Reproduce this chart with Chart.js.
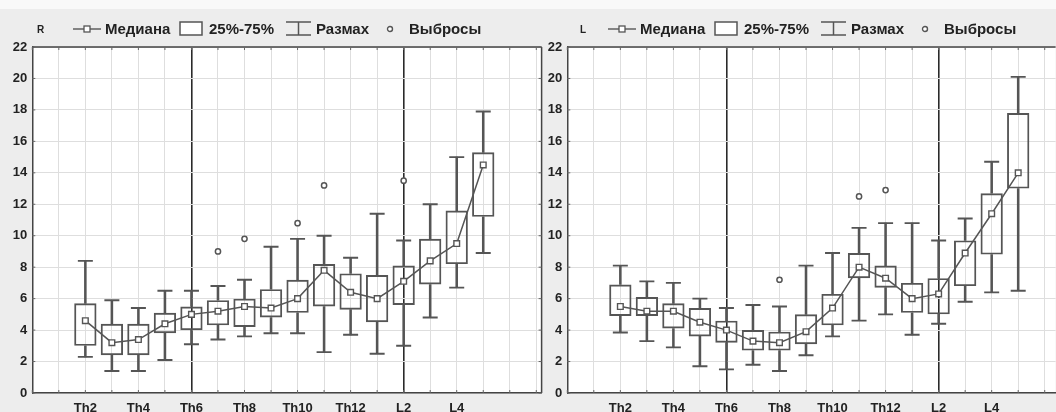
<!DOCTYPE html>
<html>
<head>
<meta charset="utf-8">
<script src="https://cdn.jsdelivr.net/npm/chart.js@4.4.1/dist/chart.umd.min.js"></script>
<style>
  html, body { margin: 0; padding: 0; }
  body { width: 1056px; height: 412px; overflow: hidden; position: relative;
         background: #ededed; font-family: "Liberation Sans", Arial, sans-serif; }
  .topband { position: absolute; left: 0; top: 0; width: 1056px; height: 9px; background: #f9f9f9; }
  .panel { position: absolute; top: 0; height: 412px; }
  .legend { position: absolute; top: 0; height: 44px; left: 0; width: 520px; color: #222; }
  .legend span, .legend svg { position: absolute; }
  .legend .t { font-size: 15px; font-weight: bold; top: 20px; line-height: 17px; white-space: nowrap; }
  .legend .p { font-size: 10px; font-weight: bold; top: 24px; line-height: 12px; }
</style>
</head>
<body>
<div class="topband"></div>
<canvas id="chartR" class="panel" style="left:0px" width="551" height="412"></canvas>
<canvas id="chartL" class="panel" style="left:543px" width="522" height="412"></canvas>
<div id="legR" class="legend"></div>
<div id="legL" class="legend" style="left:535px"></div>
<script>
// ---- data ----
const categories = ['Th1','Th2','Th3','Th4','Th5','Th6','Th7','Th8','Th9','Th10','Th11','Th12','L1','L2','L3','L4','L5'];
const tickLabels = ['Th2','Th4','Th6','Th8','Th10','Th12','L2','L4'];
const dividerCategories = ['Th6','L2'];
const legendTexts = ['Медиана','25%-75%','Размах','Выбросы'];

// Right side (R)
const rMin    = [null, 2.3, 1.4, 1.4, 2.1, 3.1, 3.4, 3.6, 3.8, 3.8, 2.6, 3.7, 2.5, 3.0, 4.8, 6.7, 8.9];
const rQ1     = [null, 3.0, 2.4, 2.4, 3.8, 4.0, 4.3, 4.2, 4.8, 5.1, 5.5, 5.3, 4.5, 5.6, 6.9, 8.2, 11.2];
const rMedian = [null, 4.6, 3.2, 3.4, 4.4, 5.0, 5.2, 5.5, 5.4, 6.0, 7.8, 6.4, 6.0, 7.1, 8.4, 9.5, 14.5];
const rQ3     = [null, 5.7, 4.4, 4.4, 5.1, 5.5, 5.9, 6.0, 6.6, 7.2, 8.2, 7.6, 7.5, 8.1, 9.8, 11.6, 15.3];
const rMax    = [null, 8.4, 5.9, 5.4, 6.5, 6.5, 6.8, 7.2, 9.3, 9.8, 10.0, 8.6, 11.4, 9.7, 12.0, 15.0, 17.9];
const rOutlierCats = ['Th7','Th8','Th10','Th11','L2'];
const rOutlierVals = [9.0, 9.8, 10.8, 13.2, 13.5];

// Left side (L)
const lMin    = [null, 3.85, 3.3, 2.9, 1.7, 1.5, 1.8, 1.4, 2.4, 3.6, 4.6, 5.0, 3.7, 4.4, 5.8, 6.4, 6.5];
const lQ1     = [null, 4.9, 4.9, 4.1, 3.6, 3.2, 2.7, 2.7, 3.1, 4.3, 7.3, 6.7, 5.1, 5.0, 6.8, 8.8, 13.0];
const lMedian = [null, 5.5, 5.2, 5.2, 4.5, 4.0, 3.3, 3.2, 3.9, 5.4, 8.0, 7.3, 6.0, 6.3, 8.9, 11.4, 14.0];
const lQ3     = [null, 6.9, 6.1, 5.7, 5.4, 4.6, 4.0, 3.9, 5.0, 6.3, 8.9, 8.1, 7.0, 7.3, 9.7, 12.7, 17.8];
const lMax    = [null, 8.1, 7.1, 7.0, 6.0, 5.4, 5.6, 5.5, 8.1, 8.9, 10.5, 10.8, 10.8, 9.7, 11.1, 14.7, 20.1];
const lOutlierCats = ['Th8','Th11','Th12'];
const lOutlierVals = [7.2, 12.5, 12.9];

const yTicks = { min: 0, max: 22, step: 2 };

// ---- styling ----
const INK = '#555555';
const FONT = "'Liberation Sans', Arial, sans-serif";
const pos = c => categories.indexOf(c) + 1;

function rangePoints(lo, hi) {
  const out = [];
  categories.forEach((c, i) => { if (lo[i] != null && hi[i] != null) out.push({ x: pos(c), y: [lo[i], hi[i]] }); });
  return out;
}
function valuePoints(vals) {
  const out = [];
  categories.forEach((c, i) => { if (vals[i] != null) out.push({ x: pos(c), y: vals[i] }); });
  return out;
}

const framePlugin = {
  id: 'frame',
  beforeDraw(chart) {
    const a = chart.chartArea, ctx = chart.ctx;
    ctx.save(); ctx.fillStyle = '#ffffff';
    ctx.fillRect(a.left, a.top, a.right - a.left, a.bottom - a.top);
    ctx.restore();
  },
  afterDraw(chart, args, opts) {
    const a = chart.chartArea, ctx = chart.ctx;
    ctx.save(); ctx.strokeStyle = '#444'; ctx.lineWidth = 1.5;
    ctx.beginPath();
    ctx.moveTo(a.left, a.top); ctx.lineTo(a.right, a.top);
    if (opts.right) { ctx.moveTo(a.right, a.top); ctx.lineTo(a.right, a.bottom); }
    ctx.stroke();
    // inward tick marks
    ctx.lineWidth = 1; ctx.strokeStyle = '#666';
    const ys = chart.scales.y, xs = chart.scales.x;
    ctx.beginPath();
    ys.ticks.forEach(t => {
      const py = ys.getPixelForValue(t.value);
      ctx.moveTo(a.left, py); ctx.lineTo(a.left + 3, py);
      if (opts.right) { ctx.moveTo(a.right, py); ctx.lineTo(a.right - 3, py); }
    });
    xs.ticks.forEach(t => {
      const px = xs.getPixelForValue(t.value);
      ctx.moveTo(px, a.top); ctx.lineTo(px, a.top + 3);
      ctx.moveTo(px, a.bottom); ctx.lineTo(px, a.bottom - 3);
    });
    ctx.stroke();
    ctx.restore();
  }
};

function makeChart(id, d, cfg) {
  const caps = valuePoints(d.max).concat(valuePoints(d.min));
  const outliers = d.outCats.map((c, i) => ({ x: pos(c), y: d.outVals[i] }));
  return new Chart(document.getElementById(id), {
    type: 'bar',
    data: {
      datasets: [
        { type: 'line', label: legendTexts[0], data: valuePoints(d.median), borderColor: INK, borderWidth: 1.5,
          pointStyle: 'rect', pointRadius: 4, pointBorderWidth: 1.4, pointBackgroundColor: '#ffffff',
          pointBorderColor: INK, tension: 0, fill: false },
        { type: 'line', label: legendTexts[3], data: outliers, showLine: false, pointStyle: 'circle',
          pointRadius: 2.6, pointBorderWidth: 1.5, pointBorderColor: INK, pointBackgroundColor: '#ffffff' },
        { type: 'line', label: 'caps', data: caps, showLine: false, pointStyle: 'line',
          pointRadius: 7.5, pointBorderWidth: 1.9, pointBorderColor: INK },
        { label: legendTexts[1], data: rangePoints(d.q1, d.q3), backgroundColor: 'rgba(0,0,0,0)',
          borderColor: INK, borderWidth: 1.9, borderSkipped: false, grouped: false,
          barPercentage: 0.84, categoryPercentage: 1 },
        { label: legendTexts[2], data: rangePoints(d.q3, d.max), backgroundColor: INK, borderWidth: 0,
          grouped: false, barThickness: 1.9 },
        { label: legendTexts[2] + ' low', data: rangePoints(d.min, d.q1), backgroundColor: INK, borderWidth: 0,
          grouped: false, barThickness: 1.9 }
      ]
    },
    options: {
      responsive: false, animation: false, devicePixelRatio: 1,
      layout: { padding: { top: 47, right: 0, left: 0, bottom: 0 } },
      plugins: { legend: { display: false }, tooltip: { enabled: false }, frame: { right: cfg.right } },
      scales: {
        x: {
          type: 'linear', min: 0, max: cfg.xMax, offset: false,
          afterFit: s => { s.height = 19; s.paddingLeft = 0; s.paddingRight = 0; },
          grid: {
            offset: false, drawTicks: false,
            color: c => dividerCategories.map(pos).includes(c.tick && c.tick.value) ? '#2a2a2a' : '#dedede',
            lineWidth: c => dividerCategories.map(pos).includes(c.tick && c.tick.value) ? 1.6 : 1
          },
          border: { display: true, color: '#444', width: 1.5 },
          ticks: {
            stepSize: 1, autoSkip: false, maxRotation: 0, includeBounds: false, padding: 8,
            color: '#222', font: { family: FONT, size: 13, weight: 'bold' },
            callback: v => { const c = categories[v - 1]; return tickLabels.includes(c) ? c : ''; }
          }
        },
        y: {
          min: yTicks.min, max: yTicks.max,
          afterFit: s => { s.width = cfg.yWidth; },
          grid: { drawTicks: false, color: '#dedede' },
          border: { display: true, color: '#444', width: 1.5 },
          ticks: { stepSize: yTicks.step, padding: 5, color: '#222',
                   font: { family: FONT, size: 13, weight: 'bold' } }
        }
      }
    },
    plugins: [framePlugin]
  });
}

makeChart('chartR',
  { min: rMin, q1: rQ1, median: rMedian, q3: rQ3, max: rMax, outCats: rOutlierCats, outVals: rOutlierVals },
  { xMax: 19.2, yWidth: 32.3, right: true });
makeChart('chartL',
  { min: lMin, q1: lQ1, median: lMedian, q3: lQ3, max: lMax, outCats: lOutlierCats, outVals: lOutlierVals },
  { xMax: 18.41, yWidth: 24.3, right: false });

// ---- HTML legends ----
function buildLegend(el, panelName, nameOffset) {
  const svgNS = 'http://www.w3.org/2000/svg';
  const icon = (left, w, h, top, draw) => {
    const s = document.createElementNS(svgNS, 'svg');
    s.setAttribute('width', w); s.setAttribute('height', h);
    s.style.left = left + 'px'; s.style.top = top + 'px';
    s.innerHTML = draw; el.appendChild(s);
  };
  const text = (left, str, cls) => {
    const sp = document.createElement('span'); sp.className = cls; sp.textContent = str;
    sp.style.left = left + 'px'; el.appendChild(sp);
  };
  text(37 + nameOffset, panelName, 'p');
  icon(73, 28, 12, 23, `<line x1="0" y1="6" x2="28" y2="6" stroke="${INK}" stroke-width="1.4"/><rect x="11" y="3" width="6" height="6" fill="#fff" stroke="${INK}" stroke-width="1.3"/>`);
  text(105, legendTexts[0], 't');
  icon(179, 24, 15, 21, `<rect x="1" y="1" width="22" height="13" fill="#fff" stroke="${INK}" stroke-width="1.5"/>`);
  text(209, legendTexts[1], 't');
  icon(286, 25, 15, 21, `<line x1="0" y1="1" x2="25" y2="1" stroke="${INK}" stroke-width="1.5"/><line x1="12.5" y1="1" x2="12.5" y2="14" stroke="${INK}" stroke-width="1.5"/><line x1="0" y1="14" x2="25" y2="14" stroke="${INK}" stroke-width="1.5"/>`);
  text(316, legendTexts[2], 't');
  icon(386, 8, 8, 25, `<circle cx="4" cy="4" r="2.5" fill="#fff" stroke="${INK}" stroke-width="1.4"/>`);
  text(409, legendTexts[3], 't');
}
buildLegend(document.getElementById('legR'), 'R', 0);
buildLegend(document.getElementById('legL'), 'L', 8);
</script>
</body>
</html>
